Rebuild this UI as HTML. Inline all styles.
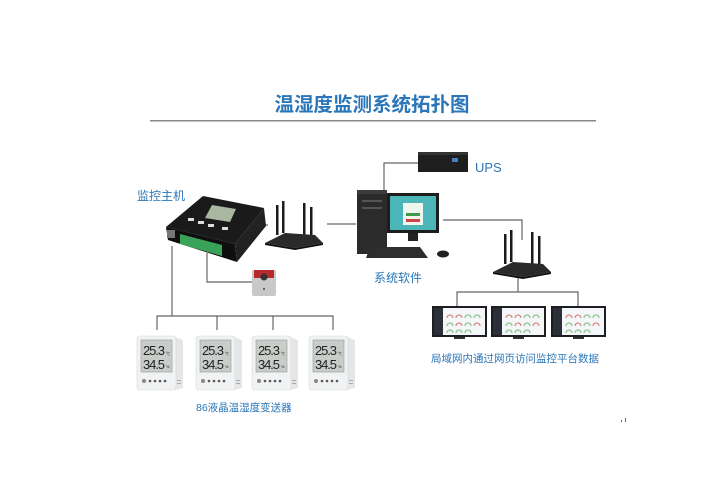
<!DOCTYPE html>
<html><head><meta charset="utf-8"><style>
html,body{margin:0;padding:0;background:#fff;}
svg{display:block}
text{font-family:"Liberation Sans","Noto Sans CJK SC",sans-serif;}
</style></head><body>
<svg width="721" height="481" viewBox="0 0 721 481" xmlns="http://www.w3.org/2000/svg">
<defs>
<g id="sensor">
  <path d="M38 1 L46 4 L46 52 L38 54 Z" fill="#e4e6e8"/>
  <rect x="0" y="0" width="39" height="54" rx="3" fill="#f1f2f3" stroke="#d6d8da" stroke-width="0.6"/>
  <rect x="4" y="4" width="31" height="32" fill="#c9cdc9" stroke="#999" stroke-width="0.6"/>
  <text x="6" y="19" font-size="13" fill="#222" font-family="Liberation Sans,sans-serif" textLength="22">25.3</text>
  <text x="6" y="33" font-size="13" fill="#222" font-family="Liberation Sans,sans-serif" textLength="22">34.5</text>
  <text x="29" y="19" font-size="4" fill="#222">℃</text>
  <text x="29" y="32" font-size="4" fill="#222">%</text>
  <circle cx="7" cy="45" r="2" fill="#888"/><circle cx="13" cy="45" r="1.3" fill="#555"/><circle cx="18" cy="45" r="1.3" fill="#555"/><circle cx="23" cy="45" r="1.3" fill="#555"/><circle cx="28" cy="45" r="1.3" fill="#555"/>
  <rect x="40" y="44" width="4" height="1" fill="#aaa"/><rect x="40" y="47" width="4" height="1" fill="#aaa"/>
</g>
<g id="mon">
  <rect x="0" y="0" width="55" height="31" fill="#1c1e22"/>
  <rect x="2" y="2" width="51" height="27" fill="#f4f6f8"/>
  <rect x="2" y="2" width="9" height="27" fill="#2b3038"/>
  <g fill="none" stroke-width="1.3">
   <path d="M15 12 a3 3 0 0 1 6 0" stroke="#d98a8a"/><path d="M24 12 a3 3 0 0 1 6 0" stroke="#d98a8a"/><path d="M33 12 a3 3 0 0 1 6 0" stroke="#8fc38f"/><path d="M42 12 a3 3 0 0 1 6 0" stroke="#8fc38f"/>
   <path d="M15 20 a3 3 0 0 1 6 0" stroke="#8fc38f"/><path d="M24 20 a3 3 0 0 1 6 0" stroke="#d98a8a"/><path d="M33 20 a3 3 0 0 1 6 0" stroke="#8fc38f"/><path d="M42 20 a3 3 0 0 1 6 0" stroke="#d98a8a"/>
   <path d="M15 27 a3 3 0 0 1 6 0" stroke="#8fc38f"/><path d="M24 27 a3 3 0 0 1 6 0" stroke="#8fc38f"/><path d="M33 27 a3 3 0 0 1 6 0" stroke="#8fc38f"/>
  </g>
  <rect x="22" y="31" width="11" height="2" fill="#333"/>
</g>
<g id="router">
  <rect x="11" y="0" width="2.5" height="30" fill="#1b1b1b"/><rect x="17" y="-4" width="2.5" height="32" fill="#1b1b1b"/>
  <rect x="38" y="-2" width="2.5" height="32" fill="#1b1b1b"/><rect x="45" y="2" width="2.5" height="32" fill="#1b1b1b"/>
  <path d="M0 38 L20 28 L50 30 L58 38 L30 43 Z" fill="#2a2a2a"/>
  <path d="M0 38 L30 43 L58 38 L58 40 L30 45 L0 40 Z" fill="#111"/>
</g>
</defs>

<text x="372" y="111" font-size="19.5" font-weight="bold" fill="#2a76b8" text-anchor="middle" font-family="Liberation Sans,Noto Sans CJK SC,sans-serif">温湿度监测系统拓扑图</text>
<rect x="150" y="120" width="446" height="1.5" fill="#888"/>

<g stroke="#666" stroke-width="1.2" fill="none">
  <path d="M172 246 V316"/><path d="M157 330 V316 H333 V330"/><path d="M217 316 V330"/><path d="M273 316 V330"/>
  <path d="M207 253 V282 H252"/>
  <path d="M262 225 H268"/><path d="M327 224 H356"/>
  <path d="M384 190 V163 H418"/>
  <path d="M443 220 H522 V240"/>
  <path d="M518 275 V292"/><path d="M457 306 V292 H578 V306"/>
</g>

<path d="M166 227 L203 196 L264 208 L235 244 Z" fill="#1a1a1a"/>
<path d="M166 227 L235 244 L237 262 L168 240 Z" fill="#0f0f0f"/>
<path d="M235 244 L264 208 L266 226 L237 262 Z" fill="#222"/>
<path d="M212 205 L236 209 L230 222 L205 218 Z" fill="#a9b7a0"/>
<path d="M180 234 L222 245 L222 256 L180 244 Z" fill="#3aa35a"/>
<rect x="167" y="230" width="8" height="8" fill="#777"/>
<rect x="188" y="218" width="6" height="3" fill="#ddd"/><rect x="198" y="221" width="6" height="3" fill="#ddd"/><rect x="208" y="224" width="6" height="3" fill="#ddd"/><rect x="222" y="227" width="6" height="3" fill="#ddd"/>

<use href="#router" x="265" y="205"/>
<use href="#router" x="493" y="234"/>

<rect x="252" y="270" width="24" height="26" rx="2" fill="#c8c8c8"/>
<rect x="254" y="270" width="20" height="8" fill="#b52a2a"/>
<circle cx="264" cy="277" r="3.5" fill="#333"/><circle cx="264" cy="289" r="1" fill="#444"/>

<rect x="357" y="190" width="30" height="64" fill="#2b2b2b"/>
<rect x="357" y="190" width="30" height="4" fill="#3c3c3c"/>
<rect x="362" y="200" width="20" height="2" fill="#555"/><rect x="362" y="207" width="20" height="2" fill="#555"/>
<rect x="387" y="193" width="52" height="40" fill="#1d1d1d"/>
<rect x="390" y="196" width="46" height="34" fill="#4bb5b8"/>
<rect x="403" y="203" width="20" height="22" fill="#eef6ee"/>
<rect x="406" y="213" width="14" height="3" fill="#3c9a4c"/><rect x="406" y="219" width="14" height="3" fill="#c44"/>
<rect x="408" y="233" width="10" height="8" fill="#222"/>
<path d="M370 247 L420 247 L428 258 L366 258 Z" fill="#2e2e2e"/>
<ellipse cx="443" cy="254" rx="6" ry="3.5" fill="#222"/>

<rect x="418" y="152" width="50" height="20" fill="#1e1e1e"/>
<rect x="418" y="152" width="50" height="3" fill="#333"/>
<rect x="452" y="158" width="6" height="4" fill="#4a7fc0"/>

<use href="#mon" x="432" y="306"/>
<use href="#mon" x="491" y="306"/>
<use href="#mon" x="551" y="306"/>

<use href="#sensor" x="137" y="336"/>
<use href="#sensor" x="196" y="336"/>
<use href="#sensor" x="252" y="336"/>
<use href="#sensor" x="309" y="336"/>

<g fill="#2a76b8" font-size="12">
<text x="137" y="200">监控主机</text>
<text x="475" y="172" font-size="13">UPS</text>
<text x="374" y="282">系统软件</text>
<text x="431" y="362" font-size="10.5">局域网内通过网页访问监控平台数据</text>
<text x="196" y="411" font-size="10.5">86液晶温湿度变送器</text>
</g>
<rect x="621" y="420" width="1" height="2" fill="#666"/><rect x="625" y="418" width="1" height="4" fill="#666"/>
</svg>
</body></html>
